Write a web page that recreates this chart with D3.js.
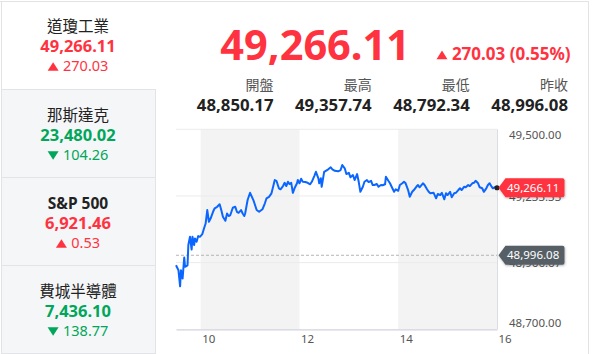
<!DOCTYPE html>
<html>
<head>
<meta charset="utf-8">
<script src="https://cdn.jsdelivr.net/npm/d3@7"></script>
<style>
  body { margin: 0; background: #fff; }
  svg { display: block; font-family: "Noto Sans", "Noto Sans CJK TC", sans-serif; }
</style>
</head>
<body>
<script>
var width = 593, height = 354;

// left panel indices
var indexNames = ["道瓊工業", "那斯達克", "S&P 500", "費城半導體"];
var indexValues = [49266.11, 23480.02, 6921.46, 7436.10];
var indexChanges = [270.03, -104.26, 0.53, -138.77];

// header
var lastPrice = 49266.11;
var priceChange = 270.03;
var priceChangePct = 0.55;
var statLabels = ["開盤", "最高", "最低", "昨收"];
var statValues = [48850.17, 49357.74, 48792.34, 48996.08];
var prevClose = 48996.08;

// intraday series: minutes after 9:30, index level
var minutes = [0, 3, 5, 6, 8, 10, 11, 14, 15, 17, 19, 20, 22, 23, 25, 27, 29, 32, 34, 36,
  38, 40, 42, 45, 47, 50, 53, 55, 57, 60, 62, 64, 66, 69, 72, 74, 76, 79, 81, 83,
  84, 87, 90, 94, 98, 101, 105, 108, 110, 113, 116, 118, 120, 122, 125, 127, 130, 132, 134, 136,
  138, 140, 142, 144, 147, 148, 150, 152, 154, 157, 160, 163, 165, 168, 170, 173, 174, 176, 177, 180,
  182, 185, 188, 190, 193, 197, 200, 202, 205, 207, 210, 212, 215, 217, 220, 222, 224, 227, 229, 232,
  234, 237, 239, 241, 244, 246, 249, 251, 254, 255, 258, 260, 262, 265, 267, 270, 272, 275, 277, 279,
  282, 284, 287, 289, 292, 294, 296, 300, 302, 305, 307, 309, 313, 316, 318, 321, 323, 326, 328, 330,
  333, 335, 338, 340, 343, 345, 347, 350, 352, 355, 357, 360, 362, 364, 367, 369, 372, 374, 377, 379,
  381, 383, 385, 387, 390];
var prices = [48956, 48936, 48872, 48936, 48903, 48987, 48950, 48956, 49037, 49070, 49019, 49070, 49037, 49063, 49050, 49073, 49070, 49081, 49103, 49123,
  49177, 49130, 49143, 49170, 49184, 49190, 49200, 49177, 49150, 49134, 49163, 49153, 49157, 49186, 49190, 49170, 49166, 49177, 49163, 49153,
  49163, 49217, 49246, 49217, 49177, 49170, 49180, 49204, 49224, 49230, 49244, 49270, 49297, 49294, 49264, 49260, 49273, 49286, 49273, 49290,
  49281, 49286, 49246, 49264, 49284, 49297, 49284, 49302, 49290, 49289, 49286, 49280, 49290, 49313, 49330, 49304, 49284, 49304, 49270, 49330,
  49334, 49340, 49348, 49340, 49334, 49332, 49337, 49357, 49344, 49321, 49326, 49308, 49317, 49297, 49321, 49290, 49250, 49270, 49290, 49297,
  49289, 49294, 49277, 49277, 49281, 49270, 49277, 49276, 49280, 49310, 49294, 49284, 49270, 49250, 49260, 49254, 49277, 49284, 49290, 49284,
  49257, 49230, 49250, 49257, 49270, 49277, 49268, 49284, 49277, 49260, 49250, 49244, 49246, 49224, 49241, 49237, 49246, 49220, 49244, 49237,
  49250, 49228, 49244, 49246, 49257, 49264, 49257, 49270, 49268, 49277, 49273, 49284, 49286, 49294, 49284, 49268, 49264, 49250, 49264, 49277,
  49284, 49273, 49264, 49268, 49266.11];

var xTicks = [30, 150, 270, 390];        // 10:00, 12:00, 14:00, 16:00
var shadedBands = [[30, 150], [270, 390]];
var yTicks = [48700, 48966.67, 49233.33, 49500];

var red = "#ff333f", green = "#00a65a", ink = "#222", muted = "#555";
var fmt = d3.format(",.2f");

var svg = d3.select("body").append("svg")
    .attr("width", width)
    .attr("height", height);

var defs = svg.append("defs");
var shadow = defs.append("filter").attr("id", "shadow")
    .attr("x", "-20%").attr("y", "-30%").attr("width", "140%").attr("height", "160%");
shadow.append("feDropShadow").attr("dx", 0.5).attr("dy", 1).attr("stdDeviation", 0.8)
    .attr("flood-color", "#000").attr("flood-opacity", 0.3);

// ---------- frame + left tabs ----------
var cellTops = [0, 89, 177, 265];
var cellH = [89, 88, 88, 89];

svg.selectAll(".tab")
    .data(cellTops.slice(1))
    .enter().append("rect")
    .attr("class", "tab")
    .attr("x", 1.5).attr("y", function (d) { return d + 0.5; })
    .attr("width", 154).attr("height", 88)
    .attr("fill", "#f5f6f8")
    .attr("stroke", "#e2e4e8");

svg.append("line").attr("x1", 0).attr("x2", 588.5).attr("y1", 1.5).attr("y2", 1.5)
    .attr("stroke", "#e3e3e3");
svg.append("line").attr("x1", 1.5).attr("x2", 1.5).attr("y1", 1).attr("y2", height)
    .attr("stroke", "#e3e3e3");
svg.append("line").attr("x1", 588.5).attr("x2", 588.5).attr("y1", 1).attr("y2", height)
    .attr("stroke", "#e3e3e3");

// triangle + number, returns nothing; anchor: "middle" or "start"
function changeLabel(g, cx, baseline, value, size, weight, anchor, triW) {
    var col = value >= 0 ? red : green;
    var t = g.append("text")
        .attr("y", baseline)
        .attr("fill", col)
        .attr("font-size", size)
        .attr("font-weight", weight)
        .text(fmt(Math.abs(value)).replace(/^(.*)$/, "$1"));
    var tw = t.node().getComputedTextLength();
    var gap = triW * 0.4;
    var x0 = anchor === "middle" ? cx - (triW + gap + tw) / 2 : cx;
    t.attr("x", x0 + triW + gap);
    var th = triW * 0.78, yb = baseline - size * 0.02, yt = yb - th;
    var path = value >= 0
        ? "M" + x0 + "," + yb + "L" + (x0 + triW) + "," + yb + "L" + (x0 + triW / 2) + "," + yt + "Z"
        : "M" + x0 + "," + yt + "L" + (x0 + triW) + "," + yt + "L" + (x0 + triW / 2) + "," + yb + "Z";
    g.append("path").attr("d", path).attr("fill", col);
    return t;
}

var tabs = svg.selectAll(".tabtext")
    .data(indexNames)
    .enter().append("g")
    .attr("class", "tabtext")
    .attr("transform", function (d, i) { return "translate(0," + cellTops[i] + ")"; });

tabs.append("text")
    .attr("x", 78).attr("y", 31.5)
    .attr("text-anchor", "middle")
    .attr("font-size", 15.5)
    .attr("font-weight", function (d) { return /[A-Za-z]/.test(d) ? "bold" : "normal"; })
    .attr("fill", ink)
    .text(function (d) { return d; });

tabs.append("text")
    .attr("x", 78).attr("y", 52)
    .attr("text-anchor", "middle")
    .attr("font-size", 16.5)
    .attr("font-weight", "bold")
    .attr("fill", function (d, i) { return indexChanges[i] >= 0 ? red : green; })
    .text(function (d, i) { return fmt(indexValues[i]); });

tabs.each(function (d, i) {
    changeLabel(d3.select(this), 78, 71, indexChanges[i], 14.5, "normal", "middle", 11);
});

// ---------- header ----------
svg.append("text")
    .attr("x", 410).attr("y", 60)
    .attr("text-anchor", "end")
    .attr("font-size", 41.5)
    .attr("font-weight", "bold")
    .attr("fill", red)
    .text(fmt(lastPrice));

var hdr = svg.append("g");
var chg = changeLabel(hdr, 436.5, 59.5, priceChange, 17, "bold", "start", 11);
chg.text(fmt(priceChange) + " (" + priceChangePct.toFixed(2) + "%)");

var statX = d3.scaleLinear().domain([0, 3]).range([273.5, 568]);

svg.selectAll(".statlabel")
    .data(statLabels)
    .enter().append("text")
    .attr("x", function (d, i) { return statX(i); })
    .attr("y", 90)
    .attr("text-anchor", "end")
    .attr("font-size", 14)
    .attr("fill", muted)
    .text(function (d) { return d; });

svg.selectAll(".statvalue")
    .data(statValues)
    .enter().append("text")
    .attr("x", function (d, i) { return statX(i); })
    .attr("y", 110.5)
    .attr("text-anchor", "end")
    .attr("font-size", 16.8)
    .attr("font-weight", "bold")
    .attr("fill", ink)
    .text(function (d) { return fmt(d); });

// ---------- chart ----------
var x = d3.scaleLinear().domain([0, 390]).range([176, 497]);
var y = d3.scaleLinear().domain([48700, 49500]).range([329.3, 129.3]);

svg.selectAll(".band")
    .data(shadedBands)
    .enter().append("rect")
    .attr("class", "band")
    .attr("x", function (d) { return x(d[0]); })
    .attr("y", y(49500))
    .attr("width", function (d) { return x(d[1]) - x(d[0]); })
    .attr("height", y(48700) - y(49500))
    .attr("fill", "#f3f3f3");

svg.selectAll(".grid")
    .data(yTicks.slice(1))
    .enter().append("line")
    .attr("class", "grid")
    .attr("x1", x(0)).attr("x2", x(390))
    .attr("y1", function (d) { return y(d); })
    .attr("y2", function (d) { return y(d); })
    .attr("stroke", "#ebebeb");

svg.append("line")
    .attr("x1", x(390) + 0.5).attr("x2", x(390) + 0.5)
    .attr("y1", y(49500)).attr("y2", y(48700))
    .attr("stroke", "#dcdce4");

// x axis
var xAxis = svg.append("g")
    .attr("transform", "translate(0," + y(48700) + ")")
    .call(d3.axisBottom(x).tickValues(xTicks).tickSize(0).tickPadding(6)
        .tickFormat(function (m) { return 9.5 + m / 60; }));
xAxis.select(".domain").attr("stroke", "#d2d2dc").attr("stroke-width", 1.3);
xAxis.selectAll("text")
    .attr("text-anchor", "start")
    .attr("x", 1)
    .attr("fill", muted)
    .attr("font-size", 11.5)
    .attr("font-family", "Noto Sans, sans-serif");

// y axis labels
var yAxis = svg.append("g")
    .attr("transform", "translate(509,0)")
    .call(d3.axisRight(y).tickValues(yTicks).tickSize(0).tickPadding(0).tickFormat(fmt));
yAxis.select(".domain").remove();
yAxis.selectAll("text")
    .attr("fill", muted)
    .attr("font-size", 11.5)
    .attr("font-family", "Noto Sans, sans-serif")
    .attr("dy", function (d) {
        if (d === 49500) return "9px";
        if (d === 48700) return "-2.6px";
        return "0.36em";
    });

// previous close reference
svg.append("line")
    .attr("x1", x(0)).attr("x2", x(390))
    .attr("y1", y(prevClose)).attr("y2", y(prevClose))
    .attr("stroke", "#b5b5b5")
    .attr("stroke-dasharray", "3,2");

// price line
var line = d3.line()
    .x(function (d, i) { return x(minutes[i]); })
    .y(function (d) { return y(d); });

svg.append("path")
    .datum(prices)
    .attr("fill", "none")
    .attr("stroke", "#0a66ff")
    .attr("stroke-width", 2)
    .attr("stroke-linejoin", "round")
    .attr("d", line);

svg.append("circle")
    .attr("cx", x(minutes[minutes.length - 1]))
    .attr("cy", y(prices[prices.length - 1]))
    .attr("r", 2.6)
    .attr("fill", "#222");

// value badges
function badge(value, color) {
    var g = svg.append("g")
        .attr("transform", "translate(" + (x(390) + 1.5) + "," + y(value) + ")");
    g.append("path")
        .attr("d", "M0,0L7,-9.5H64Q66,-9.5 66,-7.5V7.5Q66,9.5 64,9.5H7Z")
        .attr("fill", color)
        .attr("filter", "url(#shadow)");
    g.append("text")
        .attr("x", 8.5)
        .attr("dy", "0.36em")
        .attr("fill", "#fff")
        .attr("font-size", 11.5)
        .text(fmt(value));
}
badge(prevClose, "#575e66");
badge(lastPrice, red);
</script>
</body>
</html>
